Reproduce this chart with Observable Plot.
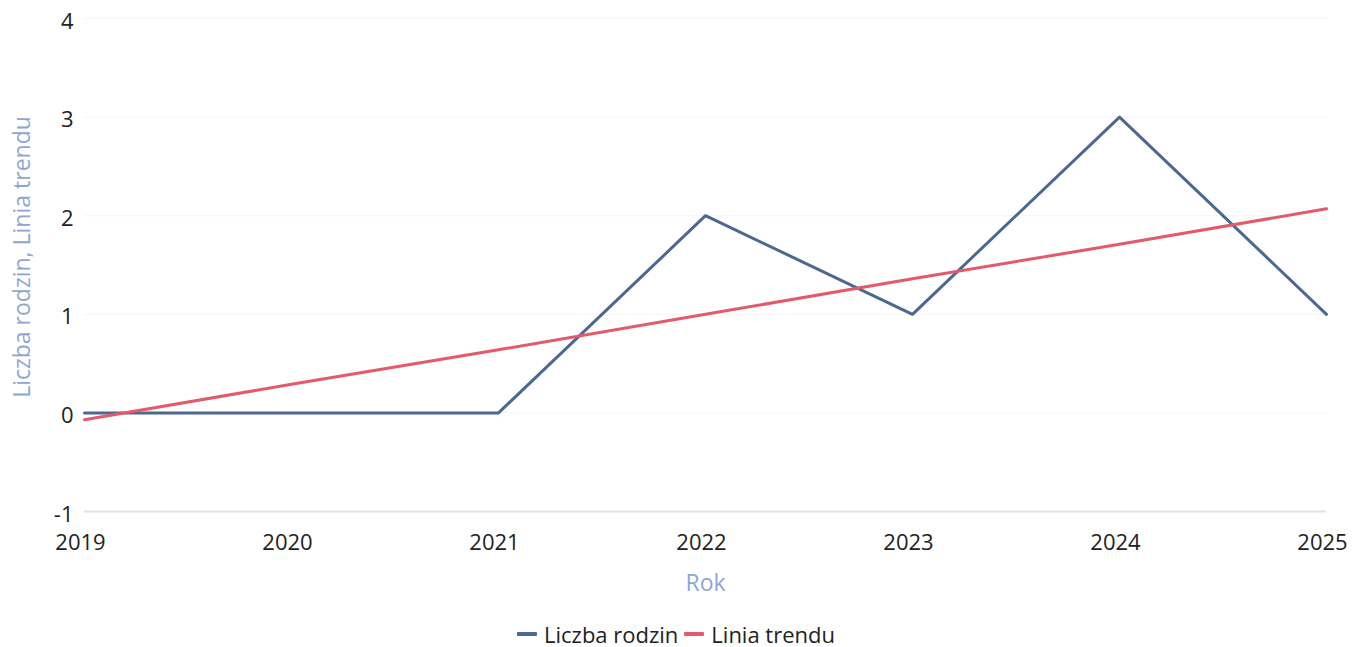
<!DOCTYPE html>
<html>
<head>
<meta charset="utf-8">
<script src="https://cdn.jsdelivr.net/npm/d3@7"></script>
<script src="https://cdn.jsdelivr.net/npm/@observablehq/plot@0.6"></script>
<style>
  body { margin: 0; background: #fff; font-family: "Open Sans", sans-serif; }
  #chart svg { display: block; }
  .legend { display: flex; justify-content: center; align-items: center; gap: 6px; font-size: 22px; line-height: 26px; color: #222; margin-top: 21px; padding-left: 0px; }
  .legend span.item { display: inline-flex; align-items: center; }
  .legend span.sw { display: inline-block; width: 20px; height: 4px; margin-right: 7px; border-radius: 1px; }
</style>
</head>
<body>
<div id="chart"></div>
<script>
const years = [2019, 2020, 2021, 2022, 2023, 2024, 2025];
const liczbaRodzin = [0, 0, 0, 2, 1, 3, 1];
const liniaTrendu = [-0.07, 0.29, 0.64, 1.0, 1.36, 1.71, 2.07];
const yTicks = [-1, 0, 1, 2, 3, 4];
const seriesNames = ["Liczba rodzin", "Linia trendu"];
const seriesColors = ["#4b6893", "#e35b6b"];

const data = [];
years.forEach((y, i) => {
  data.push({year: y, value: liczbaRodzin[i], series: seriesNames[0]});
  data.push({year: y, value: liniaTrendu[i], series: seriesNames[1]});
});

const chart = Plot.plot({
  width: 1352,
  height: 600,
  marginLeft: 84,
  marginRight: 26,
  marginTop: 18,
  marginBottom: 89,
  style: {fontFamily: "Open Sans, sans-serif", fontSize: "22px", color: "#222", background: "#fff"},
  x: {domain: [2019, 2025], label: null},
  y: {domain: [-1, 4], label: null},
  color: {domain: seriesNames, range: seriesColors},
  marks: [
    Plot.gridY(yTicks.filter(t => t !== -1), {stroke: "#f5f5f5", strokeOpacity: 1, strokeWidth: 1}),
    Plot.ruleY([-1], {stroke: "#e2e2e2", strokeWidth: 2}),
    Plot.axisX({ticks: years, tickFormat: d => String(d), tickSize: 0, tickPadding: 23, fontSize: 22, dx: -4, label: null}),
    Plot.axisY({ticks: yTicks, tickFormat: d => String(d), tickSize: 0, tickPadding: 11, fontSize: 22, dy: 3, label: null}),
    Plot.line(data, {x: "year", y: "value", stroke: "series", strokeWidth: 3, z: "series"}),
    Plot.text(["Rok"], {frameAnchor: "bottom", dy: 79, fill: "#8ea7d2", fontSize: 23}),
    Plot.text(["Liczba rodzin, Linia trendu"], {frameAnchor: "left", textAnchor: "middle", dx: -62, dy: -8, rotate: -90, fill: "#8ea7d2", fontSize: 23})
  ]
});

document.getElementById("chart").appendChild(chart);

const legend = document.createElement("div");
legend.className = "legend";
seriesNames.forEach((n, i) => {
  const item = document.createElement("span");
  item.className = "item";
  const sw = document.createElement("span");
  sw.className = "sw";
  sw.style.background = seriesColors[i];
  item.appendChild(sw);
  item.appendChild(document.createTextNode(n));
  legend.appendChild(item);
});
document.body.appendChild(legend);
</script>
</body>
</html>
